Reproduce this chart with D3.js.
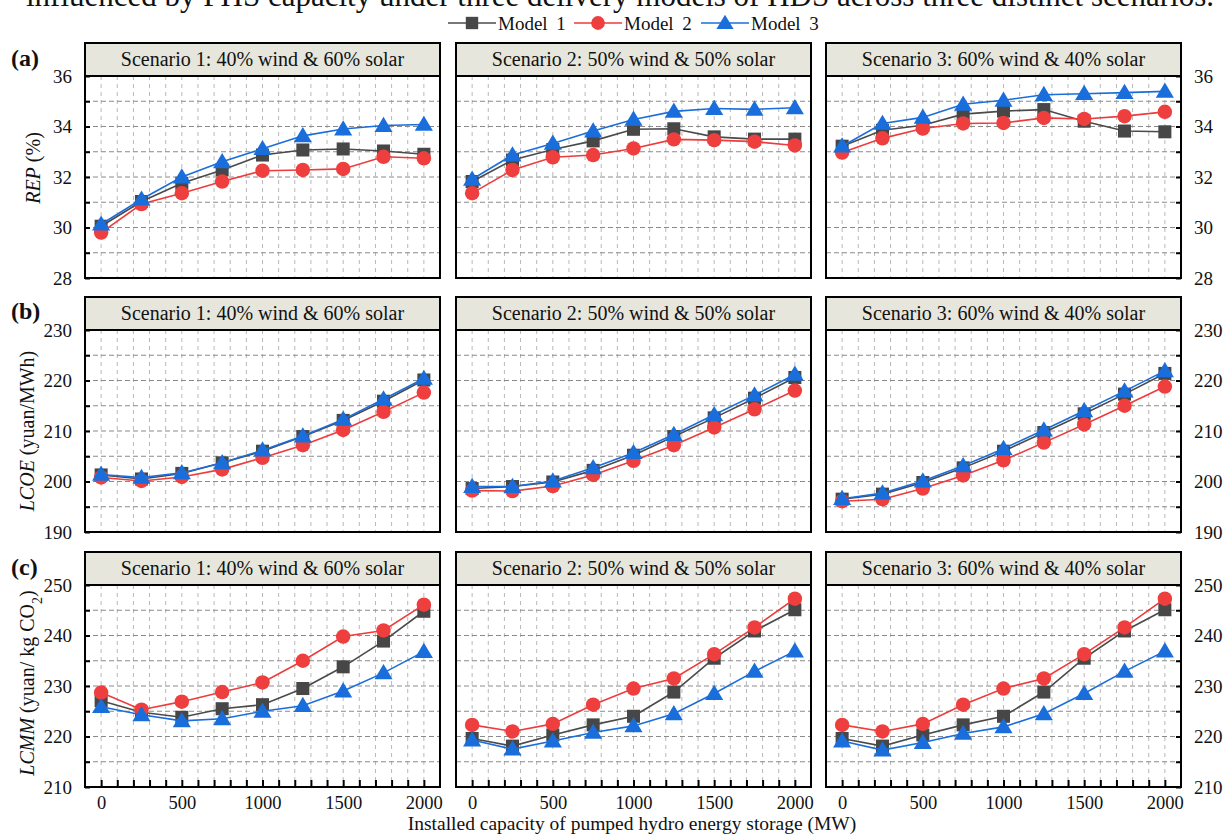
<!DOCTYPE html>
<html>
<head>
<meta charset="utf-8">
<script src="https://cdn.jsdelivr.net/npm/d3@7/dist/d3.min.js"></script>
<style>
  body { margin: 0; background: #fff; }
  svg { display: block; }
  text { font-family: "Liberation Serif", "Times New Roman", serif; fill: #111; }
</style>
</head>
<body>
<svg id="chart" width="1226" height="834"></svg>
<script>
// ---- data -------------------------------------------------------------
const capacity = [0, 250, 500, 750, 1000, 1250, 1500, 1750, 2000];
const xTickLabels = [0, 500, 1000, 1500, 2000];
const scenarioTitles = [
  "Scenario 1: 40% wind & 60% solar",
  "Scenario 2: 50% wind & 50% solar",
  "Scenario 3: 60% wind & 40% solar"
];
const modelNames = ["Model 1", "Model 2", "Model 3"];
const panelLabels = ["(a)", "(b)", "(c)"];

// REP (%) — one row per scenario
const repModel1 = [
  [30.05, 31.03, 31.75, 32.28, 32.87, 33.07, 33.11, 33.03, 32.9],
  [31.82, 32.67, 33.09, 33.43, 33.89, 33.91, 33.59, 33.5, 33.5],
  [33.22, 33.85, 34.05, 34.49, 34.61, 34.67, 34.21, 33.82, 33.79]
];
const repModel2 = [
  [29.8, 30.93, 31.36, 31.82, 32.25, 32.28, 32.32, 32.8, 32.74],
  [31.36, 32.28, 32.78, 32.87, 33.13, 33.49, 33.46, 33.4, 33.25],
  [32.97, 33.53, 33.92, 34.12, 34.14, 34.34, 34.3, 34.41, 34.58]
];
const repModel3 = [
  [30.13, 31.12, 32.0, 32.6, 33.12, 33.63, 33.9, 34.04, 34.08],
  [31.91, 32.87, 33.33, 33.82, 34.28, 34.6, 34.71, 34.68, 34.74],
  [33.22, 34.12, 34.36, 34.88, 35.04, 35.26, 35.3, 35.34, 35.39]
];

// LCOE (yuan/MWh)
const lcoeModel1 = [
  [201.3, 200.5, 201.6, 203.7, 206.0, 208.9, 212.1, 215.9, 220.1],
  [198.6, 199.0, 199.9, 202.2, 205.2, 208.9, 212.6, 216.5, 220.6],
  [196.5, 197.5, 199.8, 202.7, 206.0, 209.7, 213.4, 217.3, 221.4]
];
const lcoeModel2 = [
  [200.8, 200.1, 200.9, 202.4, 204.7, 207.2, 210.2, 213.8, 217.6],
  [198.2, 198.1, 199.1, 201.3, 204.1, 207.2, 210.7, 214.3, 218.0],
  [196.1, 196.5, 198.6, 201.2, 204.2, 207.7, 211.3, 215.0, 218.8]
];
const lcoeModel3 = [
  [201.4, 200.8, 201.7, 203.7, 206.2, 209.0, 212.3, 216.3, 220.4],
  [199.0, 199.0, 200.1, 202.7, 205.7, 209.3, 213.2, 217.1, 221.2],
  [196.6, 197.7, 200.1, 203.1, 206.5, 210.2, 214.0, 217.9, 221.9]
];

// LCMM (yuan/ kg CO2)
const lcmmModel1 = [
  [227.1, 224.8, 223.8, 225.5, 226.3, 229.5, 233.8, 238.9, 244.8],
  [219.6, 218.1, 220.3, 222.3, 224.0, 228.8, 235.5, 240.9, 245.1],
  [219.6, 218.1, 220.3, 222.3, 224.0, 228.8, 235.5, 240.9, 245.1]
];
const lcmmModel2 = [
  [228.7, 225.3, 226.9, 228.8, 230.7, 235.0, 239.8, 241.0, 246.1],
  [222.3, 221.0, 222.5, 226.3, 229.5, 231.5, 236.3, 241.6, 247.3],
  [222.3, 221.0, 222.5, 226.3, 229.5, 231.5, 236.3, 241.6, 247.3]
];
const lcmmModel3 = [
  [225.9, 224.3, 223.1, 223.5, 225.0, 226.1, 229.0, 232.6, 236.8],
  [219.3, 217.5, 219.1, 220.8, 222.1, 224.5, 228.5, 232.9, 236.9],
  [219.1, 217.3, 218.8, 220.6, 221.9, 224.5, 228.5, 232.9, 236.9]
];

const repTicks = [28, 30, 32, 34, 36];
const lcoeTicks = [190, 200, 210, 220, 230];
const lcmmTicks = [210, 220, 230, 240, 250];

// ---- layout & style ---------------------------------------------------
const colX = [85, 456, 826];
const panelW = 355;
const headerTop = [43, 297, 552];
const headerH = 33;
const plotH = 202;

const lineColors = ["#4a4a4a", "#ee3b3b", "#1a6edb"];
const markerColors = ["#474747", "#ef3e3e", "#1a6edb"];

const triangleSymbol = {
  draw(ctx, size) {
    const w = Math.sqrt(size) * 1.25, h = Math.sqrt(size) * 1.05;
    ctx.moveTo(0, -h * 0.58);
    ctx.lineTo(w / 2, h * 0.42);
    ctx.lineTo(-w / 2, h * 0.42);
    ctx.closePath();
  }
};
const symbolTypes = [d3.symbolSquare, d3.symbolCircle, triangleSymbol];
const symbolSizes = [170, 165, 210];

const rows = [
  { ticks: repTicks, minor: 1, series: [repModel1, repModel2, repModel3],
    title: [{ t: "REP", i: true }, { t: " (%)" }], titleY: 168, titleX: 33 },
  { ticks: lcoeTicks, minor: 5, series: [lcoeModel1, lcoeModel2, lcoeModel3],
    title: [{ t: "LCOE", i: true }, { t: " (yuan/MWh)" }], titleY: 431, titleX: 27 },
  { ticks: lcmmTicks, minor: 5, series: [lcmmModel1, lcmmModel2, lcmmModel3],
    title: [{ t: "LCMM", i: true }, { t: " (yuan/ kg CO" }, { t: "2", sub: true }, { t: ")" }],
    titleY: 683, titleX: 27 }
];

const svg = d3.select("#chart");

// caption line running off the top edge
svg.append("text")
  .attr("x", 1214).attr("y", 5.5)
  .attr("text-anchor", "end")
  .style("font-size", "31px")
  .text("influenced by PHS capacity under three delivery models of HDS across three distinct scenarios.");

// legend
const legend = svg.append("g").attr("transform", "translate(0,23)");
const legendX = [448, 574, 701];
modelNames.forEach((name, m) => {
  const g = legend.append("g").attr("transform", `translate(${legendX[m]},0)`);
  g.append("line").attr("x1", 0).attr("x2", 48).attr("y1", 0).attr("y2", 0)
    .attr("stroke", lineColors[m]).attr("stroke-width", 1.6);
  g.append("path").attr("transform", "translate(24,0)")
    .attr("d", d3.symbol().type(symbolTypes[m]).size(symbolSizes[m] * 0.9)())
    .attr("fill", markerColors[m]);
  g.append("text").attr("x", 50).attr("y", 7)
    .style("font-size", "19px").style("word-spacing", "4px")
    .text(name);
});

const x = d3.scaleLinear().domain([-100, 2100]).range([0, panelW]);
const minorX = d3.range(0, 2001, 100);

rows.forEach((row, r) => {
  const lo = row.ticks[0], hi = row.ticks[row.ticks.length - 1];
  const y = d3.scaleLinear().domain([lo, hi]).range([headerH + plotH, headerH]);
  const minorY = d3.range(lo, hi + 0.001, row.minor);

  scenarioTitles.forEach((title, c) => {
    const g = svg.append("g").attr("transform", `translate(${colX[c]},${headerTop[r]})`);

    // header strip
    g.append("rect").attr("x", 0).attr("y", 0).attr("width", panelW).attr("height", headerH)
      .attr("fill", "#e6e6dc").attr("stroke", "#000").attr("stroke-width", 2);
    g.append("text").attr("x", panelW / 2).attr("y", 23)
      .attr("text-anchor", "middle").style("font-size", "20px").text(title);

    // plot background + grid
    g.append("rect").attr("x", 0).attr("y", headerH).attr("width", panelW).attr("height", plotH)
      .attr("fill", "#fff");
    g.append("g").selectAll("line").data(minorX).join("line")
      .attr("x1", d => x(d)).attr("x2", d => x(d))
      .attr("y1", headerH).attr("y2", headerH + plotH)
      .attr("stroke", "#b8b8b8").attr("stroke-width", 1).attr("stroke-dasharray", "4,4");
    g.append("g").selectAll("line").data(minorY.slice(1, -1)).join("line")
      .attr("x1", 0).attr("x2", panelW)
      .attr("y1", d => y(d)).attr("y2", d => y(d))
      .attr("stroke", "#8a8a8a").attr("stroke-width", 1).attr("stroke-dasharray", "5,3");

    // series: line + markers, Model 1 at the bottom, Model 3 on top
    row.series.forEach((seriesByScenario, m) => {
      const vals = seriesByScenario[c];
      const pts = capacity.map((cap, i) => [cap, vals[i]]);
      g.append("path")
        .attr("d", d3.line().x(d => x(d[0])).y(d => y(d[1]))(pts))
        .attr("fill", "none").attr("stroke", lineColors[m]).attr("stroke-width", 1.6);
      g.append("g").selectAll("path").data(pts).join("path")
        .attr("transform", d => `translate(${x(d[0])},${y(d[1])})`)
        .attr("d", d3.symbol().type(symbolTypes[m]).size(symbolSizes[m])())
        .attr("fill", markerColors[m]);
    });

    // frame
    g.append("rect").attr("x", 0).attr("y", headerH).attr("width", panelW).attr("height", plotH)
      .attr("fill", "none").attr("stroke", "#000").attr("stroke-width", 2);

    // y axes on the outer sides, ticks pointing inward
    const fmtY = d => row.ticks.includes(d) ? d : "";
    if (c === 0 || c === 2) {
      const axis = (c === 0 ? d3.axisLeft(y) : d3.axisRight(y))
        .tickValues(minorY).tickSize(-5).tickPadding(13).tickFormat(fmtY);
      const ag = g.append("g")
        .attr("transform", `translate(${c === 0 ? 0 : panelW},0)`)
        .call(axis);
      ag.select(".domain").remove();
      ag.selectAll(".tick line").attr("stroke", "#000").attr("stroke-width", 2);
      ag.selectAll(".tick text").style("font-size", "19px").attr("fill", "#111")
        .style("font-family", "'Liberation Serif', serif");
    }

    // x axis on the bottom row only
    if (r === 2) {
      const axisX = d3.axisBottom(x).tickValues(minorX).tickSize(-7).tickPadding(9)
        .tickFormat(d => xTickLabels.includes(d) ? d : "");
      const ag = g.append("g").attr("transform", `translate(0,${headerH + plotH})`).call(axisX);
      ag.select(".domain").remove();
      ag.selectAll(".tick line").attr("stroke", "#000").attr("stroke-width", 2);
      ag.selectAll(".tick text").style("font-size", "18.5px").attr("fill", "#111")
        .style("font-family", "'Liberation Serif', serif");
    }
  });

  // row label and y title
  svg.append("text").attr("x", 11).attr("y", [66, 319, 575][r])
    .style("font-size", "24px").style("font-weight", "bold").text(panelLabels[r]);

  const t = svg.append("text")
    .attr("transform", `translate(${row.titleX},${row.titleY}) rotate(-90)`)
    .attr("text-anchor", "middle").attr("dy", "0.35em").style("font-size", "20px");
  row.title.forEach(part => {
    const s = t.append("tspan").text(part.t);
    if (part.i) s.style("font-style", "italic");
    if (part.sub) s.attr("baseline-shift", "sub").style("font-size", "14px");
  });
});

// shared x title
svg.append("text").attr("x", 632).attr("y", 829.7).attr("text-anchor", "middle")
  .style("font-size", "19.5px")
  .text("Installed capacity of pumped hydro energy storage (MW)");
</script>
</body>
</html>
